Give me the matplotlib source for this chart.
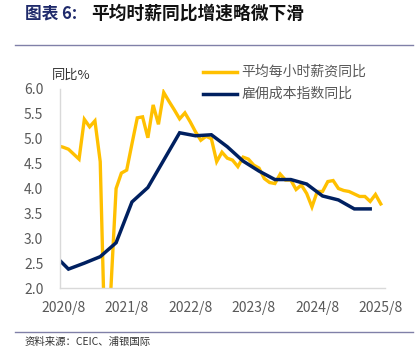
import matplotlib
matplotlib.use("Agg")
import matplotlib.pyplot as plt
from matplotlib.lines import Line2D

plt.rcParams['font.family'] = ['Noto Sans CJK SC', 'DejaVu Sans']

# average hourly earnings yoy, monthly 2020/7 - 2025/8
wage_start = (2020, 7)
wage_yoy = [4.86, 4.83, 4.79, 4.69, 4.59, 5.39,
            5.24, 5.36, 4.54, 0.40, 1.95, 4.00, 4.31, 4.37, 4.90, 5.42, 5.44, 5.02,
            5.68, 5.29, 5.93, 5.75, 5.58, 5.40, 5.52, 5.34, 5.14, 4.97, 5.05, 5.00,
            4.54, 4.73, 4.61, 4.57, 4.44, 4.63, 4.59, 4.47, 4.41, 4.20, 4.12, 4.10,
            4.29, 4.17, 4.17, 3.98, 4.07, 3.90, 3.63, 3.94, 3.94, 4.14, 4.16, 4.00,
            3.96, 3.94, 3.89, 3.84, 3.84, 3.74, 3.88, 3.69]

# employment cost index yoy, quarterly
eci_quarters = ['2020/6', '2020/9', '2020/12', '2021/3', '2021/6', '2021/9', '2021/12',
                '2022/3', '2022/6', '2022/9', '2022/12', '2023/3', '2023/6', '2023/9',
                '2023/12', '2024/3', '2024/6', '2024/9', '2024/12', '2025/3', '2025/6']
eci_yoy = [2.70, 2.38, 2.50, 2.63, 2.91, 3.73, 4.02, 4.57, 5.12, 5.06, 5.08, 4.84,
           4.55, 4.35, 4.18, 4.18, 4.09, 3.85, 3.77, 3.59, 3.59]

tick_labels = ['2020/8', '2021/8', '2022/8', '2023/8', '2024/8', '2025/8']
yticks = [2.0, 2.5, 3.0, 3.5, 4.0, 4.5, 5.0, 5.5, 6.0]


def month_index(label):
    y, m = label.split('/')
    return (int(y) - 2020) * 12 + int(m) - 8


wage_x = [(wage_start[0] - 2020) * 12 + wage_start[1] - 8 + i for i in range(len(wage_yoy))]
eci_x = [month_index(q) for q in eci_quarters]

YELLOW = '#FFC000'
NAVY = '#002060'
GRAY = '#595959'

fig = plt.figure(figsize=(4.16, 3.58), dpi=100)
ax = fig.add_axes([0.1442, 0.1955, 0.7813, 0.5559])

ax.plot(wage_x, wage_yoy, color=YELLOW, linewidth=2.4, solid_joinstyle='miter')
ax.plot(eci_x, eci_yoy, color=NAVY, linewidth=2.5, solid_joinstyle='miter')

ax.set_xlim(-0.6, 60.8)
ax.set_ylim(2.0, 6.0)
ax.set_yticks(yticks)
ax.set_yticklabels(['%.1f' % v for v in yticks], color=GRAY, fontsize=10)
ax.set_xticks([month_index(t) for t in tick_labels])
ax.set_xticklabels(tick_labels, color=GRAY, fontsize=10)
ax.tick_params(axis='both', length=0)
ax.tick_params(axis='y', pad=12)
ax.tick_params(axis='x', pad=9)

for side in ['top', 'right']:
    ax.spines[side].set_visible(False)
for side in ['left', 'bottom']:
    ax.spines[side].set_color('#D9D9D9')
    ax.spines[side].set_linewidth(1.0)

# unit label
fig.text(71 / 416, 1 - 75 / 358, '同比%', fontsize=9.5, color='#333333',
         ha='center', va='center')

# legend drawn by hand above plot
legend_items = [('平均每小时薪资同比', YELLOW, 72), ('雇佣成本指数同比', NAVY, 94)]
for name, col, ypx in legend_items:
    fy = 1 - ypx / 358
    fig.add_artist(Line2D([203 / 416, 237 / 416], [fy, fy], color=col, linewidth=2.5))
    fig.text(241 / 416, fy, name, fontsize=10, color=GRAY, ha='left', va='center')

# title
fig.text(25 / 416, 1 - 14 / 358, '图表 6:', fontsize=12, fontweight='bold',
         color='#1F2A6B', ha='left', va='center')
fig.text(91 / 416, 1 - 14 / 358, '平均时薪同比增速略微下滑', fontsize=12.8,
         fontweight='bold', color='#111111', ha='left', va='center')

# separator lines
fig.add_artist(Line2D([15 / 416, 413 / 416], [1 - 45 / 358, 1 - 45 / 358],
                      color='#8080A8', linewidth=1.0))
fig.add_artist(Line2D([15 / 416, 413 / 416], [1 - 331.5 / 358, 1 - 331.5 / 358],
                      color='#8080A8', linewidth=1.0))

fig.text(25 / 416, 1 - 342 / 358, '资料来源：CEIC、浦银国际', fontsize=7.5,
         color='#333333', ha='left', va='center')

fig.savefig('out.png', dpi=100)
